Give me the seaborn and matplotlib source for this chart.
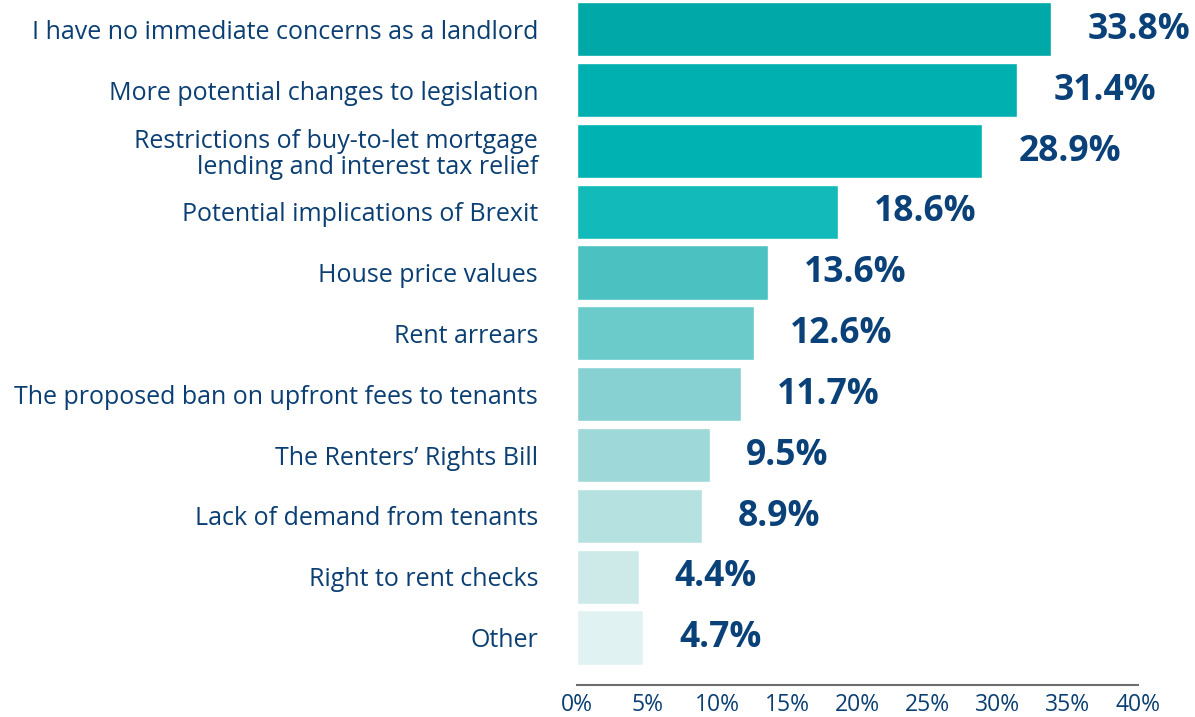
import matplotlib
matplotlib.use("Agg")
import matplotlib.pyplot as plt
import pandas as pd
import seaborn as sns

categories = [
    "I have no immediate concerns as a landlord",
    "More potential changes to legislation",
    "Restrictions of buy-to-let mortgage\nlending and interest tax relief",
    "Potential implications of Brexit",
    "House price values",
    "Rent arrears",
    "The proposed ban on upfront fees to tenants",
    "The Renters\u2019 Rights Bill",
    "Lack of demand from tenants",
    "Right to rent checks",
    "Other",
]
values = [33.8, 31.4, 28.9, 18.6, 13.6, 12.6, 11.7, 9.5, 8.9, 4.4, 4.7]
bar_colors = [
    "#00a8a8", "#00afaf", "#00b3b3", "#12baba", "#4bc1c1", "#6bcaca",
    "#88d1d2", "#9ed8d8", "#b6e1e1", "#cde9e8", "#e0f2f1",
]
x_ticks = [0, 5, 10, 15, 20, 25, 30, 35, 40]

navy = "#0b3f73"
value_navy = "#0a4178"

sns.set_style("white")
plt.rcParams["font.family"] = ["Open Sans", "DejaVu Sans"]

df = pd.DataFrame({"concern": categories, "share": values})

fig = plt.figure(figsize=(11.95, 7.17), dpi=100)
ax = fig.add_axes([0.4828, 0.0446, 0.4695, 0.9554])

sns.barplot(data=df, x="share", y="concern", hue="concern",
            palette=bar_colors, legend=False, width=0.89,
            saturation=1, ax=ax)

# value labels to the right of each bar
for i, v in enumerate(values):
    ax.annotate(f"{v:.1f}%", xy=(v, i), xytext=(26, -0.5),
                textcoords="offset points", va="center", ha="left",
                fontsize=25.5, fontweight="bold", color=value_navy)

ax.set_xlim(0, 40)
ax.set_ylim(10.78, -0.48)
ax.set_xticks(x_ticks)
ax.set_xticklabels([f"{t}%" for t in x_ticks])
ax.set_xlabel("")
ax.set_ylabel("")

for side in ["top", "right", "left"]:
    ax.spines[side].set_visible(False)
ax.spines["bottom"].set_color("#6e6e6e")
ax.spines["bottom"].set_linewidth(1.5)

ax.tick_params(axis="x", direction="in", length=6, width=1.3,
               color="#6e6e6e", labelsize=16.5, labelcolor=navy, pad=6)
ax.tick_params(axis="y", length=0, labelsize=18, labelcolor=navy, pad=28)
for lbl in ax.get_yticklabels():
    lbl.set_linespacing(1.05)

fig.savefig("out.png", dpi=100)
